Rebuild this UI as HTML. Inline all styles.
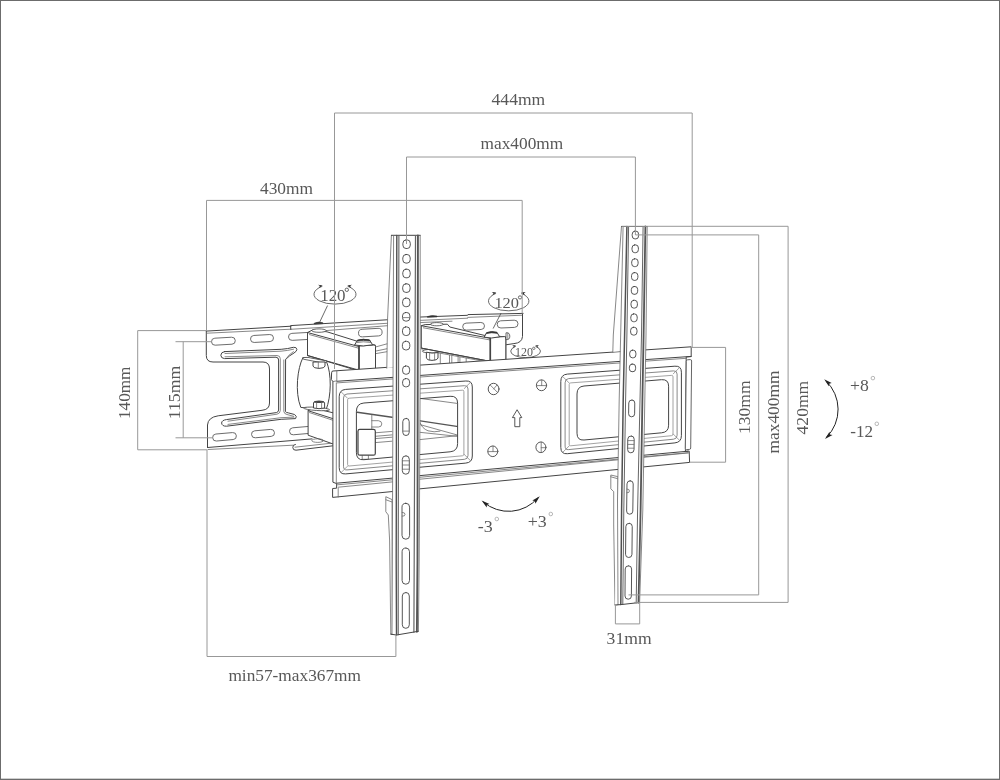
<!DOCTYPE html>
<html>
<head>
<meta charset="utf-8">
<title>TV wall mount dimensions</title>
<style>
html,body{margin:0;padding:0;background:#fff;}
body{width:1000px;height:780px;overflow:hidden;position:relative;font-family:"Liberation Serif",serif;}
#frame{position:absolute;left:0;top:0;width:1000px;height:780px;box-sizing:border-box;border:1px solid #6c6c6c;box-shadow:inset 0 -1px 0 #cfcfcf;}
svg{position:absolute;left:0;top:0;will-change:transform;}
text{font-family:"Liberation Serif",serif;fill:#585858;}
.dim{fill:none;stroke:#989898;stroke-width:1;}
.ln{fill:none;stroke:#444;stroke-width:1;stroke-linejoin:round;stroke-linecap:round;}
.lt{fill:none;stroke:#6a6a6a;stroke-width:0.8;stroke-linejoin:round;stroke-linecap:round;}
.l3{fill:none;stroke:#8c8c8c;stroke-width:0.8;}
.sl{fill:none;stroke:#606060;stroke-width:0.9;}
.wf{fill:#fff;stroke:#444;stroke-width:1;stroke-linejoin:round;}
</style>
</head>
<body>
<div id="frame"></div>
<svg width="1000" height="780" viewBox="0 0 1000 780">
<g id="wallplate">
<path class="ln" d="M206.3 331.1 L206.3 355.5 Q206.3 362 213 362 L263 362 Q269.5 362 269.5 369 L269.5 403 Q269.5 409.6 262 410.3 L218.2 415.8 Q208 417.3 207.5 425 L207.5 447.5"/>
<path class="ln" d="M206.3 331.1 L291.0 326.2"/>
<path class="lt" d="M207.0 333.2 L291.0 329.2"/>
<path class="ln" d="M290.8 329.5 L290.6 325.6 L388.6 319.7"/>
<path class="lt" d="M290.8 329.3 L388.6 323.2"/>
<path class="lt" d="M326.0 330.6 L388.6 325.6"/>
<path class="ln" d="M418.5 317.1 L467.6 315.3 L467.9 314.6 L523.1 313.4"/>
<path class="lt" d="M419.5 320.4 L467.6 318.2"/>
<path class="lt" d="M467.8 317.4 L522.5 315.2"/>
<path class="lt" d="M420.0 322.6 L452.0 321.2"/>
<path class="ln" d="M522.5 313.6 L522.5 336.5 Q522 343 513.9 343.6 L506.5 344.7"/>
<path class="ln" d="M207.5 447.5 L312.0 438.9"/>
<path class="lt" d="M208.0 449.5 L293.1 445.2"/>
<path class="ln" d="M295.4 444.4 Q292.6 444.6 292.8 447.6 Q293 450.4 296 450.2 L333 445.8"/>
<path class="lt" d="M295.0 447.2 L333.0 443.0"/>
<rect class="sl" x="211.5" y="337.7" width="23.8" height="7.0" rx="3.5" ry="3.5" transform="rotate(-3.3 223.4 341.2)" style="fill:none"/>
<rect class="sl" x="250.5" y="335.0" width="23.0" height="7.0" rx="3.5" ry="3.5" transform="rotate(-3.3 262.0 338.5)" style="fill:none"/>
<rect class="sl" x="288.5" y="332.9" width="23.0" height="7.0" rx="3.5" ry="3.5" transform="rotate(-3.3 300.0 336.4)" style="fill:none"/>
<rect class="sl" x="358.5" y="328.8" width="23.6" height="7.6" rx="3.8" ry="3.8" transform="rotate(-3.4 370.3 332.6)" style="fill:none"/>
<rect class="sl" x="462.7" y="322.8" width="21.8" height="7.0" rx="3.5" ry="3.5" transform="rotate(-2.5 473.6 326.3)" style="fill:none"/>
<rect class="sl" x="497.2" y="320.5" width="20.8" height="7.2" rx="3.6" ry="3.6" transform="rotate(-2.5 507.6 324.1)" style="fill:none"/>
<rect class="sl" x="212.6" y="433.3" width="23.8" height="7.0" rx="3.5" ry="3.5" transform="rotate(-5.0 224.5 436.8)" style="fill:none"/>
<rect class="sl" x="251.5" y="430.1" width="23.0" height="7.0" rx="3.5" ry="3.5" transform="rotate(-5.0 263.0 433.6)" style="fill:none"/>
<rect class="sl" x="289.5" y="427.1" width="23.0" height="7.0" rx="3.5" ry="3.5" transform="rotate(-5.0 301.0 430.6)" style="fill:none"/>
<path class="ln" d="M224.5 351.6 L281.2 349.3 Q288 348.8 293.4 347.3 Q296.6 346.9 296.9 349.4 Q296.8 351.4 294 353 Q289.6 355.4 285.6 359.4 L285.4 411.6 Q286.2 412.6 288.4 412.9 L294.6 414.5 Q297.4 416.4 295.6 418.6 L281.2 419.3 L226.6 426.2 Q222 426.4 221.6 423 Q221.8 420.2 226.4 419.6 L276.4 412.6 Q278.6 412 278.6 410 L278.6 360 Q278.6 357.4 276 357.2 L224.5 358.6 Q221 358.4 220.8 355.2 Q221 352 224.5 351.6Z"/>
<path class="lt" d="M225 353.5 L281 351.2 Q288 350.6 293.6 349.2 M225 356.8 L277 355.5 Q280.3 355.7 280.3 358.6 L280.3 410.5 Q280.1 413.6 277 414.2 L228 421.2 M283.8 360 L283.8 411.5 Q284.2 414 287 414.5 L293.6 416.3 M228 424.4 L281 417.7 L294 417.1 M285.6 359.4 Q288.6 354.6 293.4 351.6"/>
</g>
<g id="arms">
<path class="wf" d="M303 357.5 C297.5 368 294.6 392 300.8 407.4 L326 410 C331.4 396 331.8 374 326.3 361Z"/>
<path class="wf" d="M308.1 410.7 L314 408.2 L336 413.5 L336 445 L308.1 435.2Z"/>
<path class="ln" d="M308.1 410.7 L334.0 419.0"/>
<path class="lt" d="M309.5 412.6 L334.0 420.6"/>
<ellipse class="wf" cx="316.6" cy="408.9" rx="13" ry="1.6" transform="rotate(4 316.6 408.9)" style="stroke-width:.8"/>
<path class="wf" d="M313.5 408 L313.5 402.6 Q313.8 401.2 319 401 Q324.3 401.2 324.6 402.6 L324.6 408 Q319 409.4 313.5 408Z"/>
<ellipse cx="319" cy="402" rx="5.2" ry="1.1" fill="#444"/>
<path class="lt" d="M316.6 402.6V408.8M321.6 402.6V408.8"/>
<ellipse class="lt" cx="317.8" cy="440.6" rx="6" ry="1.8"/>
<path class="lt" d="M375.5 347.0 L388.6 343.4"/>
<path class="lt" d="M376.0 351.0 L388.6 348.4"/>
<path class="lt" d="M376.0 353.6 L388.6 351.4"/>
<path class="wf" d="M307.5 332.5 L312.5 330 L327 331.8 L357 341.2 L375.5 345.2 L375.5 371 L359 371 L307.5 355.5Z"/>
<path class="ln" d="M307.5 332.5 L359.0 346.6"/>
<path class="lt" d="M309.5 334.6 L359.0 348.3"/>
<path class="ln" d="M307.5 355.5 L359.0 370.2"/>
<path class="wf" d="M359 347.2 Q359 345.9 360.5 345.9 L374 345 Q375.5 345 375.5 346.4 L375.5 371 L359 371Z"/>
<path class="ln" d="M359 346.4V371" style="stroke-width:1.6"/>
<ellipse class="wf" cx="319" cy="330.6" rx="7.2" ry="1.7" style="stroke-width:.8"/>
<path class="wf" d="M354.6 345 L357.4 340.2 Q363 338.6 369.6 340 L372.6 344.8 Q363 347 354.6 345Z"/>
<path d="M357.6 340.3 Q363 338.4 369.4 340 L369.8 341 Q363 339.6 357.2 341.2Z" fill="#333" stroke="#333" stroke-width=".8"/>
<path class="lt" d="M356.6 342.6 Q363 341 370.8 342.4"/>
<path d="M314.2 323.2 Q318.4 321.3 322.8 322.7 L322.8 323.6 L314.2 324Z" fill="#333" stroke="#333" stroke-width=".6"/>
<path class="wf" style="stroke-width:.8" d="M302.8 357.6 L308 357.4 L326.8 361 L326.6 362.4 L320 362.4 L303.4 359.2Z"/>
<path class="wf" d="M313 362 L313 366.2 Q313.6 368.2 319 368.4 Q324.4 368.2 325 366.2 L325 362Z"/>
<path class="lt" d="M318.3 362V368.2"/>
<path class="lt" d="M440.3 353.5V364.2M449.5 355.2V363.6M451.8 355.6V363.4M458.1 356.8V363M459.9 357.2V362.9M466.2 358.4V362.5"/>
<path class="lt" d="M421.9 349.8 L484.0 361.3"/>
<ellipse class="wf" cx="431.3" cy="351.2" rx="9" ry="1.8" style="stroke-width:.8"/>
<path class="wf" d="M426.4 352.2 L426.4 358.2 Q427 360.2 432 360.4 Q437.4 360.2 438 358.2 L438 352.6 Q432 353.8 426.4 352.2Z"/>
<path class="lt" d="M429.6 353V360M434.6 353V360"/>
<path class="wf" d="M421.3 325.7 L425.2 324.6 L447.4 324.2 L449.8 327 L484 335.3 L505.8 336.8 L505.8 360.4 L489.7 361.3 L421.3 348.1Z"/>
<path class="ln" d="M421.3 325.7 L490.3 338.3"/>
<path class="lt" d="M423.4 327.8 L490.3 340.0"/>
<path class="ln" d="M421.3 348.1 L489.7 361.3"/>
<path class="wf" d="M490.3 338.6 Q490.3 337.4 491.8 337.3 L504.4 336.6 Q505.8 336.6 505.8 338 L505.8 360.4 L490.3 361.4Z"/>
<path class="ln" d="M490.3 338V361.3" style="stroke-width:1.6"/>
<ellipse class="wf" cx="436.8" cy="324.2" rx="6.4" ry="1.6" style="stroke-width:.8"/>
<path class="wf" d="M484.2 337.2 L486.6 332.6 Q491.5 331 497 332.4 L499.6 336.8 Q491.5 339 484.2 337.2Z"/>
<path d="M486.8 332.7 Q491.5 330.9 496.8 332.4 L497.2 333.3 Q491.5 332 486.4 333.6Z" fill="#333" stroke="#333" stroke-width=".8"/>
<path class="wf" style="stroke-width:.8" d="M506 332.8 Q509.8 332.4 509.8 336.2 Q509.8 340 506 339.6Z"/>
<path class="lt" d="M507.8 333V339.6"/>
<path d="M427.4 316.6 Q432 314.8 437 316.1 L437 316.9 L427.4 317.3Z" fill="#333" stroke="#333" stroke-width=".6"/>
</g>
<g id="behind">
<path class="ln" d="M352.0 411.5 L392.0 417.2" style="stroke-width:1.4;stroke:#555"/>
<path class="lt" d="M371.8 415.0 L371.8 429.0"/>
<path class="lt" d="M371.8 420.7 L378.4 420.7 Q381.8 421 381.8 423.9 Q381.8 427 378.4 427 L371.8 427"/>
<path class="lt" d="M375.3 432.8 L392.0 431.4"/>
<path class="lt" d="M375.3 436.3 L392.0 434.9"/>
<path class="lt" d="M375.3 438.6 L392.0 437.2"/>
<path class="lt" d="M375.3 442.6 L392.0 441.2"/>
<rect class="lt" x="362.6" y="453" width="5.8" height="6.3"/>
<rect class="wf" x="358" y="429.4" width="17.3" height="25.8" rx="1.8" ry="1.8" style="stroke-width:1.2"/>
<path class="lt" d="M356.8 431.0 L356.8 453.5"/>
<path class="lt" d="M417.0 398.0 L460.0 403.8"/>
<path class="ln" d="M417.0 420.4 L460.0 426.9" style="stroke-width:1.4;stroke:#555"/>
<path class="lt" d="M420.7 424.8 L458.0 435.2"/>
<path class="lt" d="M420 422.5 Q422 428.5 428 430.8 Q434 432.6 440 431.2"/>
<path class="lt" d="M417.0 432.0 L460.0 436.6"/>
<path class="lt" d="M417.0 439.9 L460.0 435.4"/>
</g>
<g id="plate">
<path class="ln" fill-rule="evenodd" style="fill:#fff" d="M331.6 372.4 Q331.6 371 333 371 L691.2 346.8 L691.2 356.6 L686.2 357 L685.4 451.4 L689.2 451.1 L689.6 462.4 L332.6 497.4 L332.6 488.5 L336.6 488.2 L336.6 483.6 L332.9 482.2 L332.9 381.6 L331.6 379.8Z M356.4 411.1 Q356.4 403.6 363.9 403.0 L450.1 396.3 Q457.6 395.7 457.6 403.2 L457.6 443.6 Q457.6 451.1 450.1 451.8 L363.9 459.7 Q356.4 460.4 356.4 452.9Z M577.0 393.6 Q577.0 386.6 584.0 386.0 L661.6 379.7 Q668.6 379.2 668.6 386.2 L668.6 425.2 Q668.6 432.2 661.6 432.8 L584.0 440.0 Q577.0 440.6 577.0 433.6Z"/>
<path class="lt" d="M336.8 371.4 L336.8 380.8 L332.9 381.6"/>
<path class="ln" d="M336.8 381.3 L691.2 356.4"/>
<path class="lt" d="M336.8 382.9 L686.2 358.3"/>
<path class="wf" style="stroke-width:.9;stroke:#555" d="M686.3 361.2 Q686.3 359.9 687.5 359.8 L690.4 359.6 Q691.6 359.6 691.6 361 L690.7 448 Q690.7 449.3 689.5 449.4 L686.5 449.6 Q685.3 449.6 685.3 448.4Z"/>
<path class="ln" d="M336.6 483.2 L688.0 451.2"/>
<path class="lt" d="M336.6 484.9 L688.0 452.7"/>
<path class="lt" d="M338.2 487.2 L688.6 452.9"/>
<path class="lt" d="M338.2 488.1 L338.2 497.0"/>
<path class="lt" d="M336.3 383.0 L336.3 483.0"/>
<path class="ln" d="M339.2 396.4 Q339.2 389.9 345.7 389.4 L465.8 381.0 Q472.3 380.5 472.3 387.0 L472.3 456.0 Q472.3 462.5 465.8 463.1 L345.7 473.9 Q339.2 474.5 339.2 468.0Z"/>
<path class="lt" d="M343.5 397.7 Q343.5 394.2 347.0 394.0 L464.5 385.7 Q468.0 385.4 468.0 388.9 L468.0 455.5 Q468.0 459.0 464.5 459.3 L347.0 469.9 Q343.5 470.2 343.5 466.7Z"/>
<path class="l3" d="M347.6 399.8 Q347.6 398.3 349.1 398.2 L462.4 390.2 Q463.9 390.1 463.9 391.6 L463.9 454.1 Q463.9 455.6 462.4 455.8 L349.1 466.0 Q347.6 466.1 347.6 464.6Z"/>
<path class="l3" d="M341.0 391.7L347.6 398.3M470.5 382.3L463.9 388.9M470.5 460.7L463.9 454.1M341.0 472.7L347.6 466.1"/>
<path class="ln" d="M560.8 381.1 Q560.8 374.6 567.3 374.1 L674.9 366.2 Q681.4 365.7 681.4 372.2 L681.4 435.7 Q681.4 442.2 674.9 442.9 L567.3 453.7 Q560.8 454.3 560.8 447.8Z"/>
<path class="lt" d="M565.1 382.4 Q565.1 378.9 568.6 378.6 L673.6 370.9 Q677.1 370.6 677.1 374.1 L677.1 435.3 Q677.1 438.8 673.6 439.2 L568.6 449.6 Q565.1 450.0 565.1 446.5Z"/>
<path class="l3" d="M569.2 384.5 Q569.2 383.0 570.7 382.9 L671.5 375.4 Q673.0 375.3 673.0 376.8 L673.0 434.0 Q673.0 435.5 671.5 435.7 L570.7 445.8 Q569.2 445.9 569.2 444.4Z"/>
<path class="l3" d="M562.6 376.4L569.2 383.0M679.6 367.5L673.0 374.1M679.6 440.4L673.0 433.8M562.6 452.5L569.2 445.9"/>
<ellipse class="ln" cx="493.6" cy="389.0" rx="5.4" ry="5.7" style="stroke-width:.9"/>
<path class="lt" d="M490.1 384.9L497.6 392.5M493.6 389.0L497.0 385.0"/>
<ellipse class="ln" cx="541.5" cy="385.3" rx="5.1" ry="5.4" style="stroke-width:.9"/>
<path class="lt" d="M536.4 385.6H546.6M541.7 379.9V385.6"/>
<ellipse class="ln" cx="492.8" cy="451.3" rx="5.0" ry="5.3" style="stroke-width:.9"/>
<path class="lt" d="M487.8 451.6H497.8M493.0 446.0V451.6"/>
<ellipse class="ln" cx="540.9" cy="447.3" rx="5.0" ry="5.3" style="stroke-width:.9"/>
<path class="lt" d="M541.2 442.0V452.6M541.2 447.7H545.9"/>
<path class="ln" style="stroke-width:.9" d="M517.3 410.1 L521.8 417.6 L519.8 417.6 L519.8 426.7 L514.8 426.7 L514.8 417.6 L512.8 417.6Z"/>
</g>
<g id="postL">
<path style="fill:#fff;stroke:none" d="M391.4 235.5 L393.6 235.5 L393 367.4 L386.8 367.9 L387.6 318Z"/>
<path class="lt" d="M391.4 235.5 L387.6 318.0 L386.8 368.2"/>
<path class="lt" style="fill:#fff" d="M391.7 499.4 L385.8 496.7 L385.8 511.7 L388.3 515 L389.6 540 L390.8 634.2 L392 634.2Z"/>
<path class="lt" d="M386.0 499.8 L392.0 502.0"/>
<path style="fill:#fff;stroke:none" d="M393.6 235.5 L420.2 235.5 L420.2 370 L419.2 560 L418.4 631.3 L396.5 635 L392 634.3 L392.3 560Z"/>
<path class="ln" d="M391.4 235.3 L420.2 235.3"/>
<path class="lt" d="M393.6 235.5 L392.3 560.0 L392.0 634.3"/>
<path class="ln" d="M396.8 235.5 L396.2 560.0 L396.5 635.0" style="stroke-width:1.4;stroke:#505050"/>
<path class="ln" d="M398.9 235.5 L398.2 560.0 L398.2 634.7" style="stroke-width:1.1;stroke:#606060"/>
<path class="ln" d="M415.5 235.5 L414.2 560.0 L413.9 632.2" style="stroke-width:1.2;stroke:#666"/>
<path class="ln" d="M417.9 235.5 L417.5 560.0 L416.9 631.7" style="stroke-width:1.9;stroke:#555"/>
<path class="lt" d="M420.2 235.5 L420.2 370.0 L419.2 560.0 L418.4 631.3"/>
<path class="ln" d="M390.8 634.2 L396.5 635.0 L418.3 631.3"/>
<rect class="ln" x="402.9" y="239.9" width="7.4" height="8.6" rx="3.1" ry="3.4" style="stroke-width:.9"/>
<rect class="ln" x="402.8" y="254.5" width="7.4" height="8.6" rx="3.1" ry="3.4" style="stroke-width:.9"/>
<rect class="ln" x="402.8" y="269.2" width="7.4" height="8.6" rx="3.1" ry="3.4" style="stroke-width:.9"/>
<rect class="ln" x="402.7" y="283.8" width="7.4" height="8.6" rx="3.1" ry="3.4" style="stroke-width:.9"/>
<rect class="ln" x="402.6" y="298.1" width="7.4" height="8.6" rx="3.1" ry="3.4" style="stroke-width:.9"/>
<rect class="ln" x="402.5" y="312.5" width="7.4" height="8.6" rx="3.1" ry="3.4" style="stroke-width:.9"/>
<rect class="ln" x="402.5" y="326.9" width="7.4" height="8.6" rx="3.1" ry="3.4" style="stroke-width:.9"/>
<rect class="ln" x="402.4" y="341.3" width="7.4" height="8.6" rx="3.1" ry="3.4" style="stroke-width:.9"/>
<path class="lt" d="M403.4 317.6 L409.6 317.6"/>
<rect class="ln" x="402.6" y="366.0" width="7.0" height="8.2" rx="2.9" ry="3.3" style="stroke-width:.9"/>
<rect class="ln" x="402.6" y="378.6" width="7.0" height="8.2" rx="2.9" ry="3.3" style="stroke-width:.9"/>
<rect class="ln" x="402.8" y="418.4" width="6.4" height="17.1" rx="3.2" ry="3.2" transform="rotate(0.00 406.0 426.9)" style="stroke-width:.9"/>
<path class="lt" d="M403.2 431.1 L408.8 431.1"/>
<rect class="ln" x="402.3" y="455.8" width="7.0" height="18.4" rx="3.5" ry="3.5" transform="rotate(0.00 405.8 465.0)" style="stroke-width:.9"/>
<path class="lt" d="M402.6 460.8H409M402.6 465H409M402.6 469.2H409"/>
<rect class="ln" x="402.0" y="503.3" width="7.6" height="35.9" rx="3.8" ry="3.8" transform="rotate(0.00 405.8 521.2)" style="stroke-width:.9"/>
<path class="lt" d="M402.2 512.4 Q405.2 512.4 405 514.4 Q405.2 516.4 402.2 516.2"/>
<rect class="ln" x="402.1" y="548.0" width="7.4" height="36.2" rx="3.7" ry="3.7" transform="rotate(0.00 405.8 566.1)" style="stroke-width:.9"/>
<rect class="ln" x="402.3" y="592.5" width="7.0" height="35.8" rx="3.5" ry="3.5" transform="rotate(0.00 405.8 610.4)" style="stroke-width:.9"/>
</g>
<g id="postR">
<path style="fill:#fff;stroke:none" d="M621.5 226.5 L623.1 226.5 L620.4 351.2 L612.8 351.7 L613.3 335Z"/>
<path class="lt" d="M621.5 226.5 L613.3 335.0 L612.8 352.2"/>
<path class="lt" style="fill:#fff" d="M617.6 476.6 L610.8 475 L610.8 488.8 L613.7 491.6 L613.7 525 L615 605 L618 604.6Z"/>
<path class="lt" d="M610.8 476.8 L617.4 478.6"/>
<path style="fill:#fff;stroke:none" d="M623.1 226.5 L647.2 226.5 L646 335 L644.8 400 L642.8 510 L639.4 602.5 L615 605 L617.5 500 L619.2 400Z"/>
<path class="ln" d="M621.5 226.5 L647.2 226.5"/>
<path class="lt" d="M623.1 226.5 L619.2 400.0 L617.5 500.0 L618.0 604.6"/>
<path class="ln" d="M626.9 226.5 L624.6 335.0 L623.2 400.0 L621.6 510.0 L620.8 604.4" style="stroke-width:1.5;stroke:#505050"/>
<path class="ln" d="M628.6 226.5 L626.9 335.0 L625.6 400.0 L623.8 510.0 L622.8 604.0" style="stroke-width:1;stroke:#666"/>
<path class="ln" d="M643.1 226.5 L641.5 335.0 L640.0 400.0 L637.6 510.0 L636.2 603.0" style="stroke-width:1;stroke:#666"/>
<path class="ln" d="M645.4 226.5 L643.6 335.0 L642.4 400.0 L640.6 510.0 L638.5 602.7" style="stroke-width:1.8;stroke:#555"/>
<path class="lt" d="M647.2 226.5 L646.0 335.0 L644.8 400.0 L642.8 510.0 L639.6 602.5"/>
<path class="ln" d="M615.0 605.0 L621.0 604.6 L639.6 602.5"/>
<rect class="ln" x="632.2" y="231.1" width="6.4" height="7.8" rx="2.7" ry="3.1" style="stroke-width:.9"/>
<rect class="ln" x="632.0" y="244.9" width="6.4" height="7.8" rx="2.7" ry="3.1" style="stroke-width:.9"/>
<rect class="ln" x="631.7" y="258.8" width="6.4" height="7.8" rx="2.7" ry="3.1" style="stroke-width:.9"/>
<rect class="ln" x="631.5" y="272.6" width="6.4" height="7.8" rx="2.7" ry="3.1" style="stroke-width:.9"/>
<rect class="ln" x="631.3" y="286.5" width="6.4" height="7.8" rx="2.7" ry="3.1" style="stroke-width:.9"/>
<rect class="ln" x="631.0" y="300.3" width="6.4" height="7.8" rx="2.7" ry="3.1" style="stroke-width:.9"/>
<rect class="ln" x="630.8" y="313.9" width="6.4" height="7.8" rx="2.7" ry="3.1" style="stroke-width:.9"/>
<rect class="ln" x="630.6" y="327.3" width="6.4" height="7.8" rx="2.7" ry="3.1" style="stroke-width:.9"/>
<rect class="ln" x="629.7" y="350.2" width="6.2" height="7.6" rx="2.6" ry="3.0" style="stroke-width:.9"/>
<rect class="ln" x="629.4" y="364.1" width="6.2" height="7.6" rx="2.6" ry="3.0" style="stroke-width:.9"/>
<rect class="ln" x="628.7" y="400.0" width="6.0" height="16.8" rx="3.0" ry="3.0" transform="rotate(0.80 631.7 408.4)" style="stroke-width:.9"/>
<rect class="ln" x="627.7" y="436.0" width="6.4" height="16.8" rx="3.2" ry="3.2" transform="rotate(0.80 630.9 444.4)" style="stroke-width:.9"/>
<path class="lt" d="M628 440.6H633.8M628 444.4H633.8M628 448.2H633.8"/>
<rect class="ln" x="626.8" y="480.8" width="6.2" height="33.4" rx="3.1" ry="3.1" transform="rotate(0.80 629.9 497.5)" style="stroke-width:.9"/>
<path class="lt" d="M627 489 Q629.6 489 629.4 491 Q629.6 493 627 492.8"/>
<rect class="ln" x="625.7" y="523.3" width="6.4" height="34.2" rx="3.2" ry="3.2" transform="rotate(0.60 628.9 540.4)" style="stroke-width:.9"/>
<rect class="ln" x="625.1" y="565.8" width="6.4" height="33.4" rx="3.2" ry="3.2" transform="rotate(0.40 628.3 582.5)" style="stroke-width:.9"/>
</g>
<g id="angles">
<path class="lt" style="stroke:#444;stroke-width:.8" d="M322.0 286.4 A21.1 9.9 0 1 0 348.0 286.4"/>
<path d="M322.5 285.4 L318.8 288.0 L319.9 286.0 L318.0 284.7Z" fill="#222" stroke="none"/>
<path d="M347.5 285.4 L352.0 284.7 L350.1 286.0 L351.2 288.0Z" fill="#222" stroke="none"/>
<path class="lt" d="M327.4 305.9 L319.7 322.1" style="stroke:#444"/>
<path class="lt" style="stroke:#444;stroke-width:.8" d="M495.7 293.5 A20.3 9.8 0 1 0 521.7 293.5"/>
<path d="M496.2 292.5 L492.5 295.2 L493.5 293.2 L491.7 291.9Z" fill="#222" stroke="none"/>
<path d="M521.2 292.5 L525.7 291.9 L523.9 293.2 L524.9 295.2Z" fill="#222" stroke="none"/>
<path class="lt" d="M500.9 313.4 L493.3 328.2" style="stroke:#444"/>
<path class="lt" style="stroke:#444;stroke-width:.8" d="M515.4 346.5 A15.0 6.4 0 1 0 535.8 346.5"/>
<path d="M515.9 345.5 L512.8 347.9 L513.8 346.1 L512.0 345.0Z" fill="#222" stroke="none"/>
<path d="M535.3 345.5 L539.2 345.0 L537.4 346.1 L538.4 347.9Z" fill="#222" stroke="none"/>
<text x="320.2" y="300.7" font-size="16" textLength="25.4" lengthAdjust="spacingAndGlyphs">120</text>
<circle cx="346.8" cy="289.8" r="1.7" fill="none" stroke="#444" stroke-width=".8"/>
<text x="494.4" y="308.1" font-size="15.6" textLength="24.6" lengthAdjust="spacingAndGlyphs">120</text>
<circle cx="520" cy="297.4" r="1.6" fill="none" stroke="#444" stroke-width=".8"/>
<text x="515" y="356.2" font-size="11.8" textLength="18" lengthAdjust="spacingAndGlyphs">120</text>
<circle cx="533.8" cy="348.3" r="1.2" fill="none" stroke="#444" stroke-width=".7"/>
<path class="ln" style="stroke:#222;stroke-width:1" d="M483.6 502.2 A38.3 38.3 0 0 0 537.8 498"/>
<path d="M481.6 500.4 L489.5 504.0 L486.9 504.8 L486.7 507.4Z" fill="#222" stroke="none"/>
<path d="M539.8 496.2 L535.4 503.7 L534.9 501.1 L532.3 500.6Z" fill="#222" stroke="none"/>
<text x="477.8" y="531.7" font-size="16.8" textLength="15" lengthAdjust="spacingAndGlyphs">-3</text>
<circle cx="496.8" cy="519" r="1.8" fill="none" stroke="#999" stroke-width=".7"/>
<text x="527.8" y="526.9" font-size="16.8" textLength="19" lengthAdjust="spacingAndGlyphs">+3</text>
<circle cx="550.8" cy="514" r="1.8" fill="none" stroke="#999" stroke-width=".7"/>
<path class="ln" style="stroke:#222;stroke-width:1" d="M826.2 381.2 A39 39 0 0 1 826.8 437"/>
<path d="M824.2 379.2 L831.7 383.1 L829.2 383.7 L828.8 386.3Z" fill="#222" stroke="none"/>
<path d="M825.0 438.9 L829.5 431.7 L829.9 434.4 L832.5 435.0Z" fill="#222" stroke="none"/>
<text x="850" y="391.2" font-size="16.8" textLength="18.8" lengthAdjust="spacingAndGlyphs">+8</text>
<circle cx="872.9" cy="378.1" r="1.8" fill="none" stroke="#999" stroke-width=".7"/>
<text x="850.3" y="437" font-size="16.8" textLength="22.8" lengthAdjust="spacingAndGlyphs">-12</text>
<circle cx="876.8" cy="423.8" r="1.8" fill="none" stroke="#999" stroke-width=".7"/>
</g>
<g class="dim" id="dims">
<path d="M334.5 369V113H692.2V347.4"/>
<path d="M406.5 244V157H635.4V235"/>
<path d="M206.5 331V200.4H522.2V313.6"/>
<path d="M207 330.6H137.7V449.8H207"/>
<path d="M175.5 341.7H212M175.5 437.8H212M183.2 341.7V437.8"/>
<path d="M207 450V656.5H395.9V634.5"/>
<path d="M621.5 226.3H788.1V602.4H634"/>
<path d="M635.5 234.9H758.7V594.9H628.5"/>
<path d="M690.5 347.4H725.6V462.2H690"/>
<path d="M615.4 605V623.9H639.7V602.5"/>
</g>
<g id="labels" font-size="17">
<text x="491.6" y="105.4" textLength="53.6" lengthAdjust="spacingAndGlyphs">444mm</text>
<text x="480.6" y="149.3" textLength="82.6" lengthAdjust="spacingAndGlyphs">max400mm</text>
<text x="260" y="193.6" textLength="53" lengthAdjust="spacingAndGlyphs">430mm</text>
<text x="228.4" y="681.2" textLength="132.6" lengthAdjust="spacingAndGlyphs">min57-max367mm</text>
<text x="606.6" y="643.6" textLength="45" lengthAdjust="spacingAndGlyphs">31mm</text>
<g font-size="17.4">
<text transform="translate(130 419) rotate(-90)" textLength="52.4" lengthAdjust="spacingAndGlyphs">140mm</text>
<text transform="translate(179.6 419.2) rotate(-90)" textLength="53.4" lengthAdjust="spacingAndGlyphs">115mm</text>
<text transform="translate(750.2 434) rotate(-90)" textLength="53.6" lengthAdjust="spacingAndGlyphs">130mm</text>
<text transform="translate(779.2 453.4) rotate(-90)" textLength="82.8" lengthAdjust="spacingAndGlyphs">max400mm</text>
<text transform="translate(808.2 434.4) rotate(-90)" textLength="53.6" lengthAdjust="spacingAndGlyphs">420mm</text>
</g>
</g>
</svg>
</body>
</html>
